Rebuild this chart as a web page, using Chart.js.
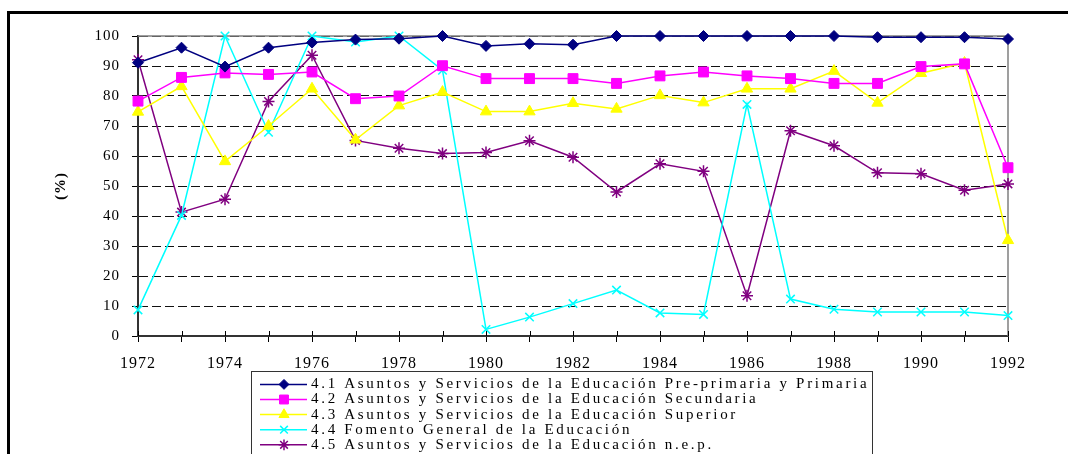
<!DOCTYPE html>
<html>
<head>
<meta charset="utf-8">
<script src="https://cdn.jsdelivr.net/npm/chart.js@4/dist/chart.umd.min.js"></script>
<style>
  html, body { margin: 0; padding: 0; background: #ffffff; overflow: hidden; }
  #wrap { width: 1068px; height: 454px; position: relative; overflow: hidden; }
  canvas { display: block; }
</style>
</head>
<body>
<div id="wrap"><canvas id="c" width="1068" height="454"></canvas></div>
<script>
// ---- data ----
const years = ['1972','1973','1974','1975','1976','1977','1978','1979','1980','1981','1982',
               '1983','1984','1985','1986','1987','1988','1989','1990','1991','1992'];

const preprimariaPrimaria = [91.1, 96.1, 89.8, 96.1, 97.8, 98.8, 99.1, 100, 96.7, 97.4, 97.1,
                             100, 100, 100, 100, 100, 100, 99.6, 99.6, 99.6, 99.0];
const secundaria = [78.3, 86.2, 87.7, 87.2, 88.0, 79.1, 80.0, 90.1, 85.8, 85.8, 85.8,
                    84.2, 86.7, 88.0, 86.7, 85.8, 84.2, 84.2, 89.8, 90.7, 56.1];
const superior = [74.7, 83.2, 58.2, 70.0, 82.4, 65.4, 76.8, 81.3, 74.8, 74.8, 77.6,
                  75.7, 80.2, 77.8, 82.4, 82.4, 88.3, 77.7, 87.6, 91.0, 31.9];
const fomento = [8.7, 40.2, 100, 67.9, 100, 98.0, 100, 88.6, 2.2, 6.3, 10.8,
                 15.3, 7.7, 7.2, 77.2, 12.3, 8.9, 8.0, 8.0, 8.0, 6.8];
const nep = [92.1, 41.3, 45.6, 78.2, 93.6, 65.2, 62.6, 60.8, 61.2, 65.1, 59.6,
             48.0, 57.4, 54.9, 13.4, 68.4, 63.4, 54.4, 54.1, 48.6, 50.7];

const seriesNames = [
  '4.1 Asuntos y Servicios de la Educación Pre-primaria y Primaria',
  '4.2 Asuntos y Servicios de la Educación Secundaria',
  '4.3 Asuntos y Servicios de la Educación Superior',
  '4.4 Fomento General de la Educación',
  '4.5 Asuntos y Servicios de la Educación n.e.p.'
];
const yTitle = '(%)';

// ---- styles ----
const SERIF = "'Liberation Serif', 'Times New Roman', serif";
const LEG_FONT = 15;
const LEG_PAD = 0.1;
const LEG_X = 260;        // start of legend line sample
const LEG_Y = 376.9;      // top of first legend row
const LEG_BOX = 43.5;     // width reserved for the sample before text

function mk(label, data, color, style, radius, bw) {
  return {
    label, data,
    borderColor: color, backgroundColor: color,
    borderWidth: 1.5, tension: 0,
    pointStyle: style, pointRadius: radius, pointHoverRadius: radius,
    pointBorderWidth: bw, pointBackgroundColor: color, pointBorderColor: color,
    clip: false
  };
}

const datasets = [
  mk(seriesNames[0], preprimariaPrimaria, '#000080', 'rectRot', 5.5, 1),
  mk(seriesNames[1], secundaria, '#FF00FF', 'rect', 7, 1),
  mk(seriesNames[2], superior, '#FFFF00', 'triangle', 6.5, 1),
  mk(seriesNames[3], fomento, '#00FFFF', 'crossRot', 6, 1.5),
  mk(seriesNames[4], nep, '#800080', 'star', 6, 1.5)
];

const spacingPlugin = {
  id: 'spacing',
  beforeUpdate(chart) { chart.ctx.letterSpacing = '1px'; },
  beforeDraw(chart) { chart.ctx.letterSpacing = '1px'; }
};

const framePlugin = {
  id: 'frame',
  beforeDraw(chart) {
    const ctx = chart.ctx;
    ctx.save();
    ctx.fillStyle = '#ffffff';
    ctx.fillRect(0, 0, chart.width, chart.height);
    // outer frame: only top and left edges are inside the picture
    ctx.fillStyle = '#000000';
    ctx.fillRect(7, 11, chart.width - 7, 3);
    ctx.fillRect(7, 11, 3, chart.height - 11);
    ctx.restore();
  },
  beforeDatasetsDraw(chart) {
    const ctx = chart.ctx;
    const a = chart.chartArea;
    ctx.save();
    // plot area border (top and right), grey
    ctx.strokeStyle = '#808080';
    ctx.lineWidth = 1.5;
    ctx.beginPath();
    ctx.moveTo(a.left, a.top);
    ctx.lineTo(a.right, a.top);
    ctx.lineTo(a.right, a.bottom);
    ctx.stroke();
    // x ticks crossing the axis (upper half)
    const xs = chart.scales.x;
    ctx.strokeStyle = '#000000';
    ctx.lineWidth = 1;
    ctx.beginPath();
    for (let i = 0; i < years.length; i++) {
      const px = Math.round(xs.getPixelForTick(i)) + 0.5;
      ctx.moveTo(px, a.bottom - 5);
      ctx.lineTo(px, a.bottom);
    }
    ctx.stroke();
    ctx.restore();
  }
};

const legendPlugin = {
  id: 'legendPlace',
  afterLayout(chart) {
    const lg = chart.legend;
    if (!lg) return;
    lg.left = LEG_X - LEG_PAD;
    lg.top = LEG_Y - LEG_PAD;
    lg.right = 880;
    lg.bottom = 480;
    lg.width = lg.right - lg.left;
    lg.height = lg.bottom - lg.top;
    if (!lg._spacingPatched) {
      const orig = lg.draw;
      lg.draw = function (area) {
        const ctx = this.ctx;
        ctx.save();
        ctx.letterSpacing = '2.7px';
        orig.call(this, area);
        ctx.restore();
      };
      lg._spacingPatched = true;
    }
  },
  afterDraw(chart) {
    const ctx = chart.ctx;
    ctx.save();
    // legend frame (runs off the bottom of the picture)
    ctx.fillStyle = '#333333';
    ctx.fillRect(251, 371, 622, 1);
    ctx.fillRect(251, 371, 1, chart.height - 371);
    ctx.fillRect(872, 371, 1, chart.height - 371);
    // legend samples: line + marker
    const rowH = LEG_FONT + LEG_PAD;
    chart.data.datasets.forEach((ds, i) => {
      const y = LEG_Y + i * rowH + LEG_FONT / 2;
      ctx.strokeStyle = ds.borderColor;
      ctx.lineWidth = 1.5;
      ctx.beginPath();
      ctx.moveTo(LEG_X, y);
      ctx.lineTo(LEG_X + 47, y);
      ctx.stroke();
      ctx.fillStyle = ds.backgroundColor;
      ctx.lineWidth = ds.pointBorderWidth;
      Chart.helpers.drawPoint(ctx, {
        pointStyle: ds.pointStyle, rotation: 0,
        radius: ds.pointRadius * 0.9, borderWidth: ds.pointBorderWidth
      }, LEG_X + 24, y);
    });
    ctx.restore();
  }
};

new Chart(document.getElementById('c'), {
  type: 'line',
  data: { labels: years, datasets },
  options: {
    responsive: false,
    animation: false,
    devicePixelRatio: 1,
    layout: { padding: { left: 0, top: 36, right: 60, bottom: 0 } },
    plugins: {
      tooltip: { enabled: false },
      title: { display: false },
      legend: {
        display: true,
        position: 'chartArea',
        align: 'start',
        labels: {
          font: { family: SERIF, size: LEG_FONT },
          color: '#000000',
          boxWidth: LEG_BOX,
          boxHeight: 1,
          padding: LEG_PAD,
          generateLabels: (chart) => chart.data.datasets.map((ds, i) => ({
            text: ds.label, fillStyle: 'rgba(0,0,0,0)', strokeStyle: 'rgba(0,0,0,0)',
            lineWidth: 0, hidden: false, datasetIndex: i, fontColor: '#000000'
          }))
        }
      }
    },
    scales: {
      x: {
        type: 'category',
        offset: false,
        afterFit: (s) => { s.height = 118; },
        grid: {
          display: true, drawOnChartArea: false, drawTicks: true,
          tickLength: 6, tickColor: '#000000', tickWidth: 1, tickBorderDash: []
        },
        border: { display: true, color: '#333333', width: 2 },
        ticks: {
          autoSkip: false, maxRotation: 0, minRotation: 0,
          padding: 12,
          color: '#000000',
          font: { family: SERIF, size: 16 },
          callback: (v, i) => (i % 2 === 0 ? years[i] : '')
        }
      },
      y: {
        min: 0, max: 100,
        afterFit: (s) => { s.width = 138; },
        grid: {
          display: true, drawOnChartArea: true, drawTicks: true,
          color: '#111111', lineWidth: 1,
          tickLength: 6, tickColor: '#000000', tickWidth: 1, tickBorderDash: []
        },
        border: { display: true, color: '#333333', width: 2, dash: [9, 4] },
        ticks: {
          stepSize: 10,
          padding: 12,
          color: '#000000',
          font: { family: SERIF, size: 15 }
        },
        title: {
          display: true,
          text: yTitle,
          color: '#000000',
          font: { family: SERIF, size: 15, weight: 'bold' },
          padding: { top: 52, bottom: 0 }
        }
      }
    }
  },
  plugins: [spacingPlugin, framePlugin, legendPlugin]
});
</script>
</body>
</html>
